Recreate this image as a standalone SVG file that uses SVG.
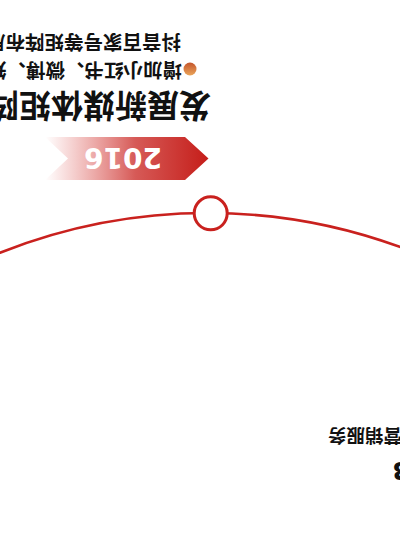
<svg xmlns="http://www.w3.org/2000/svg" width="400" height="545" viewBox="0 0 400 545">
  <style>
    .cjk { font-family: "Noto Sans CJK SC", "Noto Sans", sans-serif; fill: #111; }
    .title { font-size: 32px; font-weight: 700; }
    .sub { font-size: 19.5px; font-weight: 700; }
    .small { font-size: 18.5px; font-weight: 700; }
    .num { font-family: "DejaVu Sans", sans-serif; font-weight: 700; }
    .line { fill: none; stroke: #c9211e; stroke-width: 2.6; }
    .dot { fill: #fff; stroke: #c9211e; stroke-width: 3; }
  </style>
  <defs>
    <linearGradient id="bannerGrad" gradientUnits="userSpaceOnUse" x1="191" y1="0" x2="355" y2="0">
      <stop offset="0" stop-color="#c51d19"/>
      <stop offset="0.45" stop-color="#d65a57"/>
      <stop offset="1" stop-color="#e46e6b" stop-opacity="0"/>
    </linearGradient>
    <linearGradient id="bulletGrad" x1="0" y1="0" x2="0" y2="1">
      <stop offset="0" stop-color="#eaa55a"/>
      <stop offset="1" stop-color="#c4552c"/>
    </linearGradient>
  </defs>
  <g transform="rotate(180 200 272.5)">
    <g id="connectors">
      <circle class="line" cx="192.5" cy="-230" r="562"/>
    </g>
    <g id="milestone-2016">
      <circle class="dot" cx="189.3" cy="331.7" r="16.5"/>
      <polygon points="191.5,386.5 215,365 355,365 332,386.5 355,408 215,408" fill="url(#bannerGrad)"/>
      <text class="num" x="277" y="397" font-size="28" fill="#fff" text-anchor="middle">2016</text>
      <text class="cjk title" x="189" y="451">发展新媒体矩阵</text>
      <circle cx="210" cy="476" r="6.5" fill="url(#bulletGrad)"/>
      <text class="cjk sub" x="218" y="482">增加小红书、微博、知</text>
      <text class="cjk sub" x="219" y="510.5">抖音百家号等矩阵布局</text>
    </g>
    <g id="milestone-3">
      <text class="num" x="8" y="83.3" font-size="25" fill="#111" text-anchor="end">3</text>
      <text class="cjk small" x="-2" y="116.5">营销服务</text>
    </g>
  </g>
</svg>
